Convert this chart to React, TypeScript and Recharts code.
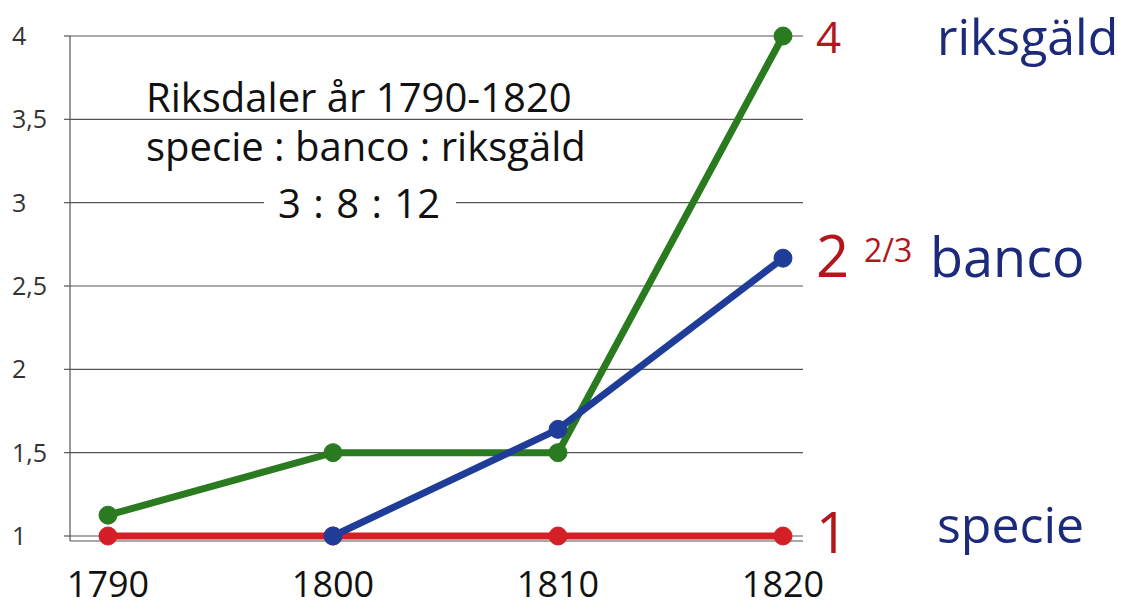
import { LineChart, Line, XAxis, YAxis, CartesianGrid } from 'recharts';

const years = [1790, 1800, 1810, 1820];
const specie = [1, 1, 1, 1];
const banco = [null, 1, 1.64, 2.667];
const riksgald = [1.125, 1.5, 1.5, 4];
const yTicks = [1, 1.5, 2, 2.5, 3, 3.5, 4];

const data = years.map((year, i) => ({
  year,
  specie: specie[i],
  banco: banco[i],
  riksgald: riksgald[i],
}));

const FONT = '"Open Sans", "Noto Sans", sans-serif';
const RED = '#d41f26';
const GREEN = '#2a7a20';
const BLUE = '#1f3d98';
const LABEL_RED = '#b3171d';
const NAVY = '#1c2a7c';

const YTick = (props: any) => {
  const { y, payload } = props;
  return (
    <text x={12} y={y} dy={9} textAnchor="start" fontSize={25} fill="#333" fontFamily={FONT}>
      {String(payload.value).replace('.', ',')}
    </text>
  );
};

const XTick = (props: any) => {
  const { x, y, payload } = props;
  return (
    <text x={x} y={y} dy={48} textAnchor="middle" fontSize={36} fill="#111" fontFamily={FONT}>
      {payload.value}
    </text>
  );
};

export default function App() {
  return (
    <div style={{ position: 'absolute', left: 0, top: 0, width: 1134, height: 610, background: '#fff' }}>
      <LineChart
        width={1134}
        height={610}
        data={data}
        margin={{ top: 36, right: 331, left: 0, bottom: 9 }}
      >
        <CartesianGrid vertical={false} stroke="#555" strokeWidth={1.2} />
        <XAxis
          dataKey="year"
          type="number"
          domain={[1790, 1820]}
          ticks={years}
          padding={{ left: 38, right: 20 }}
          axisLine={false}
          tickLine={false}
          height={60}
          tick={<XTick />}
        />
        <YAxis
          type="number"
          domain={[1, 4]}
          ticks={yTicks}
          width={70}
          padding={{ top: 0, bottom: 5 }}
          axisLine={{ stroke: '#555', strokeWidth: 1.2 }}
          tickLine={{ stroke: '#555', strokeWidth: 1.2 }}
          tickSize={6}
          tick={<YTick />}
        />
        <Line
          dataKey="specie"
          stroke={RED}
          strokeWidth={7}
          dot={{ r: 9, fill: RED, stroke: RED, strokeWidth: 1 }}
          isAnimationActive={false}
        />
        <Line
          dataKey="riksgald"
          stroke={GREEN}
          strokeWidth={7}
          dot={{ r: 9, fill: GREEN, stroke: GREEN, strokeWidth: 1 }}
          isAnimationActive={false}
        />
        <Line
          dataKey="banco"
          stroke={BLUE}
          strokeWidth={7}
          dot={{ r: 9, fill: BLUE, stroke: BLUE, strokeWidth: 1 }}
          isAnimationActive={false}
        />
      </LineChart>
      <svg
        width={1134}
        height={610}
        style={{ position: 'absolute', left: 0, top: 0, pointerEvents: 'none' }}
        fontFamily={FONT}
      >
        <text x={146} y={112} fontSize={40} fill="#111">Riksdaler år 1790-1820</text>
        <text x={146} y={161} fontSize={40} fill="#111">specie : banco : riksgäld</text>
        <rect x={264} y={186} width={192} height={30} fill="#fff" />
        <text x={359} y={218} fontSize={40} fill="#111" textAnchor="middle" wordSpacing={2}>
          3 : 8 : 12
        </text>

        <text x={816} y={53} fontSize={44} fill={LABEL_RED}>4</text>
        <text x={937} y={55} fontSize={50} fill={NAVY}>riksgäld</text>

        <text x={816} y={277} fontSize={58} fill={LABEL_RED}>2</text>
        <text x={864} y={262} fontSize={32} fill={LABEL_RED}>2/3</text>
        <text x={930} y={277} fontSize={54} fill={NAVY}>banco</text>

        <text x={816} y={553} fontSize={56} fill={LABEL_RED}>1</text>
        <text x={937} y={543} fontSize={50} fill={NAVY}>specie</text>
      </svg>
    </div>
  );
}
